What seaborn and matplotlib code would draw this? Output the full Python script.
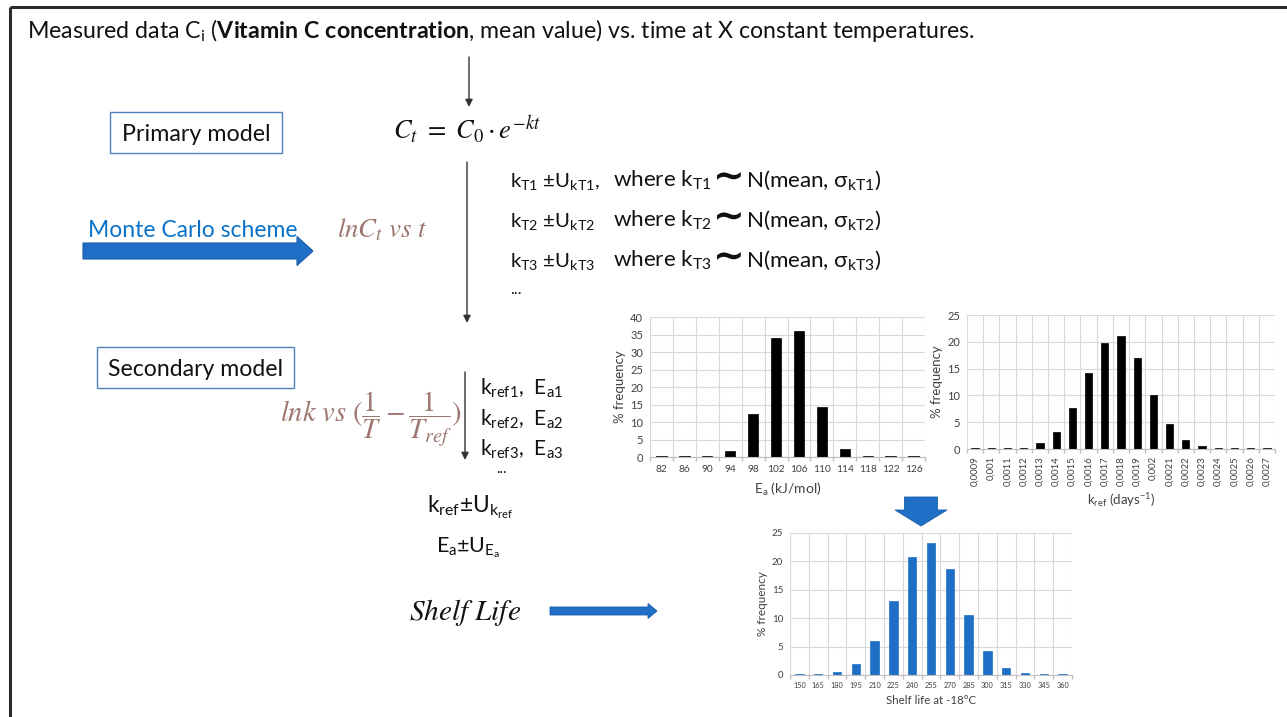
import numpy as np
import matplotlib
matplotlib.use('Agg')
import matplotlib.pyplot as plt
import seaborn as sns
from matplotlib.patches import FancyArrow, Rectangle

# ---------------- data ----------------
ea_bins = ['82', '86', '90', '94', '98', '102', '106', '110', '114', '118', '122', '126']
ea_freq = [0.3, 0.3, 0.3, 1.7, 12.4, 34.0, 36.0, 14.3, 2.3, 0.3, 0.3, 0.3]

kref_bins = ['0,0009', '0,001', '0,0011', '0,0012', '0,0013', '0,0014', '0,0015', '0,0016',
             '0,0017', '0,0018', '0,0019', '0,002', '0,0021', '0,0022', '0,0023', '0,0024',
             '0,0025', '0,0026', '0,0027']
kref_freq = [0.1, 0.1, 0.1, 0.25, 1.05, 3.2, 7.6, 14.1, 19.85, 21.0, 16.9, 10.1, 4.7, 1.7,
             0.5, 0.1, 0.1, 0.1, 0.1]

sl_bins = ['150', '165', '180', '195', '210', '225', '240', '255', '270', '285', '300',
           '315', '330', '345', '360']
sl_freq = [0.1, 0.1, 0.45, 1.9, 5.95, 13.1, 20.7, 23.2, 18.6, 10.5, 4.2, 1.2, 0.3, 0.1, 0.1]

# ---------------- style ----------------
sns.set_theme(style='white')
plt.rcParams['font.family'] = ['Lato', 'DejaVu Sans']
plt.rcParams['mathtext.fontset'] = 'custom'
plt.rcParams['mathtext.rm'] = 'Lato'
plt.rcParams['mathtext.it'] = 'Lato:italic'
plt.rcParams['mathtext.bf'] = 'Lato:bold'
plt.rcParams['mathtext.sf'] = 'Lato'

W, H = 1287, 717
fig = plt.figure(figsize=(W / 100, H / 100), dpi=100)
fig.patch.set_facecolor('white')
renderer = fig.canvas.get_renderer()


def px(x0, y0, x1, y1):
    return [x0 / W, 1 - y1 / H, (x1 - x0) / W, (y1 - y0) / H]


ax0 = fig.add_axes([0, 0, 1, 1])
ax0.set_xlim(0, W)
ax0.set_ylim(H, 0)
ax0.axis('off')


def width(t):
    return t.get_window_extent(renderer=renderer).width


def fit(t, w):
    t.set_fontsize(t.get_fontsize() * w / width(t))
    return t.get_fontsize()


BROWN = '#9d7770'
BLUE = '#1f6fc6'
BLUE_EDGE = '#1a5ea8'
INK = '#111111'

# frame
ax0.plot([10, W], [7, 7], color='#2b2b2b', lw=2.2, solid_capstyle='butt')
ax0.plot([10, 10], [7, H], color='#2b2b2b', lw=2.2, solid_capstyle='butt')

# title
t = ax0.text(27, 38, r'Measured data C$_{\mathrm{i}}$ ($\mathbf{Vitamin\ C\ concentration}$, mean value) vs. time at X constant temperatures.',
             fontsize=15, va='baseline', ha='left', color=INK)
fit(t, 948)

# boxes
ax0.add_patch(Rectangle((110, 112), 172, 41, fill=False, edgecolor='#4f81bd', lw=1.0))
t = ax0.text(196, 141, 'Primary model', fontsize=16, ha='center', va='baseline', color=INK)
fs_box = fit(t, 149)
ax0.add_patch(Rectangle((97, 347), 197, 41, fill=False, edgecolor='#4f81bd', lw=1.0))
t = ax0.text(195.5, 376, 'Secondary model', fontsize=fs_box, ha='center', va='baseline', color=INK)
fit(t, 175)

# Monte Carlo
t = ax0.text(88, 237, 'Monte Carlo scheme', fontsize=16, ha='left', va='baseline', color='#0a72c8')
fit(t, 210)
ax0.add_patch(FancyArrow(83, 251, 230, 0, width=16, head_width=29, head_length=16,
                         length_includes_head=True, facecolor=BLUE, edgecolor=BLUE_EDGE, lw=0.8))

# equations (serif italic, STIX)
t = ax0.text(393, 139, r'$C_t\ =\ C_0 \cdot e^{-kt}$', fontsize=18, ha='left', va='baseline',
             color=INK, math_fontfamily='stix')
fit(t, 148)
t = ax0.text(337, 237, r'$lnC_t\ vs\ t$', fontsize=16, ha='left', va='baseline',
             color=BROWN, math_fontfamily='stix')
fit(t, 91)
t = ax0.text(280, 422, r'$lnk\ vs\ (\dfrac{1}{T}-\dfrac{1}{T_{ref}})$', fontsize=16, ha='left',
             va='baseline', color=BROWN, math_fontfamily='stix')
fit(t, 183)
t = ax0.text(409, 620, r'$Shelf\ Life$', fontsize=16, ha='left', va='baseline',
             color=INK, math_fontfamily='stix')
fit(t, 113)

# thin arrows
for (x, y0, y1) in [(469, 57, 107), (467, 162, 323), (465, 372, 460)]:
    ax0.annotate('', xy=(x, y1), xytext=(x, y0),
                 arrowprops=dict(arrowstyle='-|>', color='#333333', lw=1.0, mutation_scale=11,
                                 shrinkA=0, shrinkB=0))

# k_T rows
t = ax0.text(510, 187, r'k$_{\mathrm{T1}}$ ±U$_{\mathrm{kT1}}$,', fontsize=16, ha='left',
             va='baseline', color=INK)
fs_row = fit(t, 90)
rows = [('1', 187), ('2', 227), ('3', 267)]
for k, yb in rows[1:]:
    ax0.text(510, yb, r'k$_{\mathrm{T%s}}$ ±U$_{\mathrm{kT%s}}$' % (k, k), fontsize=fs_row,
             ha='left', va='baseline', color=INK)


def right_row(k, yb, fs):
    x = 613
    a = ax0.text(x, yb, r'where k$_{\mathrm{T%s}}$' % k, fontsize=fs, ha='left',
                 va='baseline', color=INK)
    x += width(a) + 2
    b = ax0.text(x, yb + 1, '∼', fontsize=fs * 1.7, ha='left', va='baseline',
                 fontweight='bold', color=INK, family='DejaVu Sans')
    x += width(b) + 1
    c = ax0.text(x, yb, r'N(mean, $\mathrm{\sigma}_{\mathrm{kT%s}}$)' % k, fontsize=fs,
                 ha='left', va='baseline', color=INK)
    x += width(c)
    return [a, b, c], x


arts, xend = right_row('1', 187, fs_row)
scale = (882 - 613) / (xend - 613)
for a in arts:
    a.remove()
fs_right = fs_row * scale
for k, yb in rows:
    right_row(k, yb, fs_right)
ax0.text(510, 294, '...', fontsize=fs_row * 0.8, ha='left', va='baseline', color=INK)

# k_ref rows
t = ax0.text(480, 395, r'k$_{\mathrm{ref1}}$,  E$_{\mathrm{a1}}$', fontsize=16, ha='left',
             va='baseline', color=INK)
fs_kr = fit(t, 83)
for k, yb in [('2', 426), ('3', 456)]:
    ax0.text(480, yb, r'k$_{\mathrm{ref%s}}$,  E$_{\mathrm{a%s}}$' % (k, k), fontsize=fs_kr,
             ha='left', va='baseline', color=INK)
ax0.text(496, 473, '...', fontsize=fs_kr * 0.7, ha='left', va='baseline', color=INK)
t = ax0.text(427, 513, r'k$_{\mathrm{ref}}$±U$_{\mathrm{k_{ref}}}$', fontsize=fs_kr, ha='left',
             va='baseline', color=INK)
fit(t, 86)
t = ax0.text(436, 552, r'E$_{\mathrm{a}}$±U$_{\mathrm{E_a}}$', fontsize=fs_kr, ha='left',
             va='baseline', color=INK)
fit(t, 64)

# block arrows
ax0.add_patch(FancyArrow(550, 611, 107, 0, width=8, head_width=15, head_length=9,
                         length_includes_head=True, facecolor=BLUE, edgecolor=BLUE_EDGE, lw=0.6))
ax0.add_patch(FancyArrow(921, 497, 0, 29, width=33, head_width=52, head_length=16,
                         length_includes_head=True, facecolor=BLUE, edgecolor=BLUE_EDGE, lw=0.6))


# ---------------- histograms ----------------
def hist(rect, bins, freq, color, ymax, xlabel, rot=0, xtick_fs=9.0, ytick_fs=9.0,
         ylab_fs=9.0, xlab_fs=9.0, labelpad=3, xpad=4):
    ax = fig.add_axes(px(*rect))
    sns.barplot(x=bins, y=freq, color=color, saturation=1, width=0.45, ax=ax,
                edgecolor=color, linewidth=0.5)
    n = len(bins)
    ax.set_xlim(-0.5, n - 0.5)
    ax.set_ylim(0, ymax)
    ax.set_yticks(np.arange(0, ymax + 1, 5))
    ax.set_xticks(np.arange(n))
    ax.set_xticklabels(bins, rotation=rot)
    ax.set_xticks(np.arange(n + 1) - 0.5, minor=True)
    ax.set_axisbelow(True)
    ax.grid(False)
    ax.grid(which='minor', axis='x', color='#d9d9d9', lw=0.8)
    ax.grid(which='major', axis='y', color='#d9d9d9', lw=0.8)
    for s in ['top', 'right', 'left']:
        ax.spines[s].set_visible(False)
    ax.spines['bottom'].set_color('#bfbfbf')
    ax.spines['bottom'].set_linewidth(0.8)
    ax.tick_params(axis='x', which='major', length=0, labelsize=xtick_fs, colors='#404040', pad=xpad)
    ax.tick_params(axis='x', which='minor', length=3, color='#bfbfbf', direction='out', bottom=True)
    ax.tick_params(axis='y', length=0, labelsize=ytick_fs, colors='#404040', pad=5)
    ax.set_ylabel('% frequency', fontsize=ylab_fs, color='#404040', labelpad=3)
    ax.set_xlabel(xlabel, fontsize=xlab_fs, color='#404040', labelpad=labelpad)
    ax.patch.set_alpha(0)
    return ax


hist((650, 317, 925, 457), ea_bins, ea_freq, 'black', 40, r'E$_{\mathrm{a}}$ (kJ/mol)',
     xtick_fs=7.3, ytick_fs=8.0, ylab_fs=9.5, xlab_fs=10, labelpad=5, xpad=6)
hist((967, 315, 1275, 449), kref_bins, kref_freq, 'black', 25,
     r'k$_{\mathrm{ref}}$ (days$^{\mathrm{-1}}$)', rot=90, xtick_fs=6.8, ytick_fs=8.0,
     ylab_fs=9.5, xlab_fs=9.5, labelpad=4, xpad=5)
hist((790, 533, 1072, 675), sl_bins, sl_freq, '#1f6fc6', 25, 'Shelf life at -18°C',
     xtick_fs=5.3, ytick_fs=7.0, ylab_fs=8.5, xlab_fs=8.3, labelpad=4, xpad=5)

fig.savefig('out.png', dpi=100, facecolor='white')
